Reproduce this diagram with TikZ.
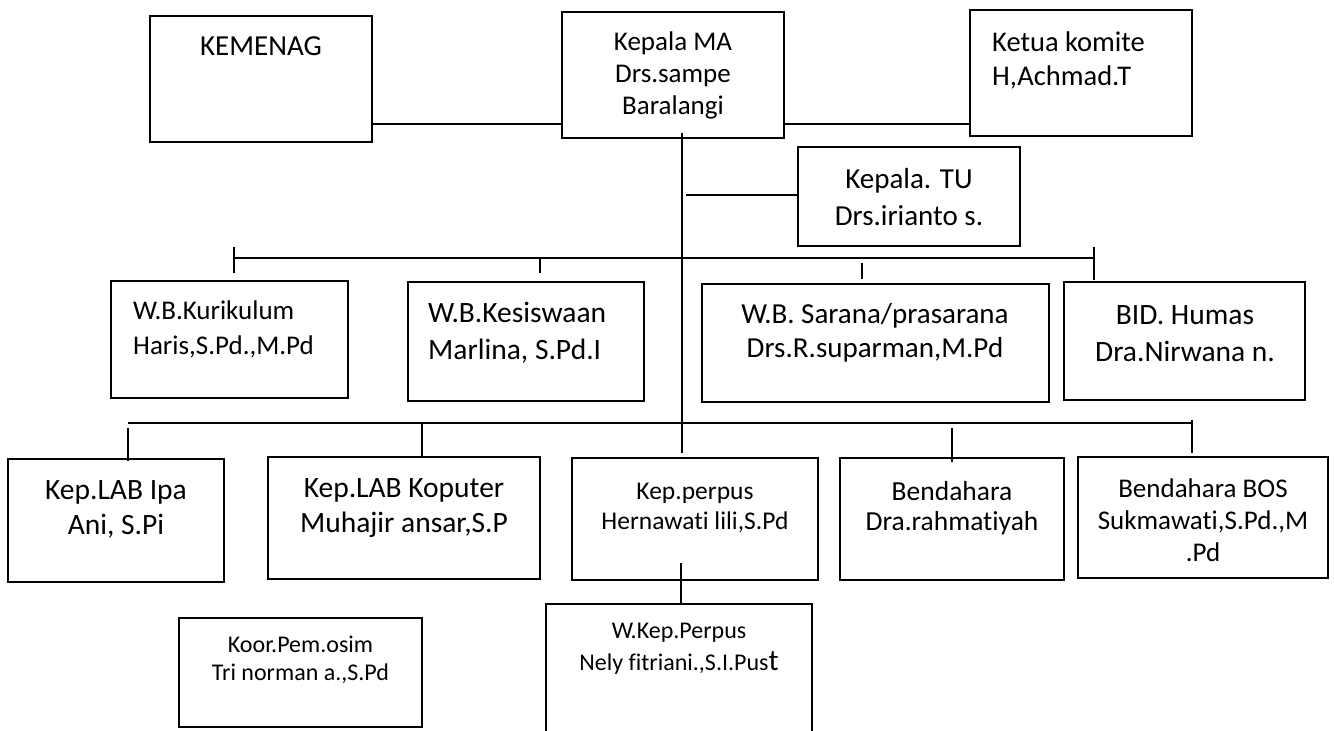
\documentclass[tikz,border=0pt]{standalone}
\usepackage{fontspec}
\setmainfont{Carlito}[Ligatures=NoCommon]
\newcommand\tp{\rule{0pt}{\fontdimen6\font}}
\newcommand\fs[2]{\fontsize{#1}{#2}\selectfont}
\begin{document}
\begin{tikzpicture}[x=1pt,y=-1pt,
  box/.style={draw=black,line width=1.8pt,rectangle,inner sep=0pt},
  conn/.style={draw=black,line width=1.8pt},
  txt/.style={inner sep=0pt,align=center,anchor=north,text=black},
  txtl/.style={inner sep=0pt,align=left,anchor=north west,text=black}]
\useasboundingbox[fill=white] (0,0) rectangle (1334,731);

% boxes
\node[box,minimum width=222pt,minimum height=126pt] (kemenag) at (261,79) {};
\node[box,minimum width=222pt,minimum height=126pt] (kepala) at (673,75) {};
\node[box,minimum width=222pt,minimum height=126pt] (ketua) at (1081,73) {};
\node[box,minimum width=222pt,minimum height=99pt] (tu) at (909,196.5) {};
\node[box,minimum width=237pt,minimum height=117pt] (kurikulum) at (229.5,339.5) {};
\node[box,minimum width=236pt,minimum height=119pt] (kesiswaan) at (526,341.5) {};
\node[box,minimum width=347pt,minimum height=118pt] (sarana) at (875.5,343) {};
\node[box,minimum width=241pt,minimum height=118pt] (humas) at (1184.5,341) {};
\node[box,minimum width=216pt,minimum height=123pt] (ipa) at (116,520.5) {};
\node[box,minimum width=272pt,minimum height=122pt] (koputer) at (404,518) {};
\node[box,minimum width=246pt,minimum height=122pt] (perpus) at (695,519) {};
\node[box,minimum width=224pt,minimum height=122pt] (bendahara) at (952,519) {};
\node[box,minimum width=250pt,minimum height=121pt] (bos) at (1203,517.5) {};
\node[box,minimum width=243pt,minimum height=109pt] (koor) at (300.5,672.5) {};
\node[box,minimum width=266pt,minimum height=160pt] (wkep) at (679,684) {};

% texts
\node[txt,font=\fs{29}{35}] (kemenag-t) at (261,26.7) {\tp KEMENAG};
\node[txt,font=\fs{27}{32}] (kepala-t) at (673,23.4) {\tp Kepala MA\\Drs.sampe\\Baralangi};
\node[txtl,font=\fs{28.5}{34}] (ketua-t) at (992,22.9) {\tp Ketua komite\\H,Achmad.T};
\node[txt,font=\fs{29}{37}] (tu-t) at (909,159.7) {\tp Kepala. TU\\Drs.irianto s.};
\node[txtl,font=\fs{27}{35}] (kurikulum-t) at (133,292.4) {\tp W.B.Kurikulum\\Haris,S.Pd.,M.Pd};
\node[txtl,font=\fs{29.5}{37}] (kesiswaan-t) at (428,292.5) {\tp W.B.Kesiswaan\\Marlina, S.Pd.I};
\node[txt,font=\fs{29}{34}] (sarana-t) at (875,294.7) {\tp W.B. Sarana/prasarana\\Drs.R.suparman,M.Pd};
\node[txt,font=\fs{29.5}{37}] (humas-t) at (1185,294.5) {\tp BID. Humas\\Dra.Nirwana n.};
\node[txt,font=\fs{29.5}{35}] (ipa-t) at (116,469.5) {\tp Kep.LAB Ipa\\Ani, S.Pi};
\node[txt,font=\fs{29.5}{35}] (koputer-t) at (404,467.5) {\tp Kep.LAB Koputer\\Muhajir ansar,S.P};
\node[txt,font=\fs{25.5}{30}] (perpus-t) at (695,473.9) {\tp Kep.perpus\\Hernawati lili,S.Pd};
\node[txt,font=\fs{27.5}{30}] (bendahara-t) at (952,473.2) {\tp Bendahara\\Dra.rahmatiyah};
\node[txt,font=\fs{27}{32}] (bos-t) at (1203,470.4) {\tp Bendahara BOS\\Sukmawati,S.Pd.,M\\.Pd};
\node[txt,font=\fs{24}{28}] (koor-t) at (300.5,628.5) {\tp Koor.Pem.osim\\Tri norman a.,S.Pd};
\node[txt,font=\fs{24}{32}] (wkep-t) at (679,614.5) {\tp W.Kep.Perpus\\Nely fitriani.,S.I.Pus{\fs{30}{30}t}};

% coordinates
\coordinate (hl) at (0,124);
\coordinate (mtop) at (682,133);
\coordinate (mbot) at (682,453);
\coordinate (tuj) at (686,195);
\coordinate (ub1) at (234,258);
\coordinate (ub2) at (1094,258);
\coordinate (t1a) at (234,247);
\coordinate (t1b) at (234,273);
\coordinate (t2a) at (540,258);
\coordinate (t2b) at (540,273);
\coordinate (t3a) at (862,263);
\coordinate (t3b) at (862,279);
\coordinate (t4a) at (1094,247);
\coordinate (t4b) at (1094,280);
\coordinate (lb1) at (128,423);
\coordinate (lb2) at (1192,423);
\coordinate (s1a) at (128,428);
\coordinate (s1b) at (128,461);
\coordinate (s2a) at (422,423);
\coordinate (s2b) at (422,457);
\coordinate (s3a) at (952,428);
\coordinate (s3b) at (952,462);
\coordinate (s4a) at (1192,420);
\coordinate (s4b) at (1192,453);
\coordinate (pa) at (681,563);

% connectors
\draw[conn] (kemenag.east |- hl) -- (kepala.west |- hl);
\draw[conn] (kepala.east |- hl) -- (ketua.west |- hl);
\draw[conn] (mtop) -- (mbot);
\draw[conn] (tuj) -- (tu.west |- tuj);
\draw[conn] (ub1) -- (ub2);
\draw[conn] (t1a) -- (t1b);
\draw[conn] (t2a) -- (t2b);
\draw[conn] (t3a) -- (t3b);
\draw[conn] (t4a) -- (t4b);
\draw[conn] (lb1) -- (lb2);
\draw[conn] (s1a) -- (s1b);
\draw[conn] (s2a) -- (s2b);
\draw[conn] (s3a) -- (s3b);
\draw[conn] (s4a) -- (s4b);
\draw[conn] (pa) -- (pa |- wkep.north);
\end{tikzpicture}
\end{document}
